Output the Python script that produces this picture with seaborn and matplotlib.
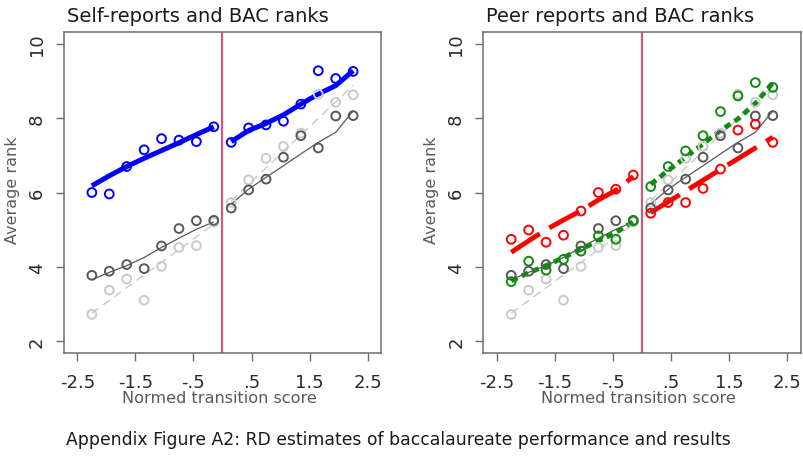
import matplotlib
matplotlib.use("Agg")
import matplotlib.pyplot as plt
import pandas as pd
import seaborn as sns

# ---------------- data ----------------
x_left = [-2.25, -1.95, -1.65, -1.35, -1.05, -0.75, -0.45, -0.15]
x_right = [0.15, 0.45, 0.75, 1.05, 1.35, 1.65, 1.95, 2.25]

# BAC rank (dark grey) - bin means and fit
bac_pts_left = [3.77, 3.88, 4.06, 3.95, 4.56, 5.03, 5.24, 5.25]
bac_pts_right = [5.58, 6.07, 6.36, 6.95, 7.53, 7.20, 8.06, 8.07]
bac_fit_left = [3.65, 3.85, 4.03, 4.25, 4.52, 4.77, 5.01, 5.21]
bac_fit_right = [5.69, 6.09, 6.41, 6.72, 7.04, 7.35, 7.62, 8.20]

# Baccalaureate performance (light grey) - bin means and straight fit
perf_pts_left = [2.72, 3.37, 3.67, 3.10, 4.01, 4.52, 4.57, 5.20]
perf_pts_right = [5.73, 6.34, 6.92, 7.24, 7.60, 8.65, 8.43, 8.63]
perf_fit_x_left = [-2.25, -0.15]
perf_fit_left = [2.75, 5.15]
perf_fit_x_right = [0.15, 2.25]
perf_fit_right = [5.78, 8.88]

# Self-reports (blue)
self_pts_left = [6.00, 5.96, 6.70, 7.15, 7.45, 7.41, 7.37, 7.77]
self_pts_right = [7.35, 7.74, 7.82, 7.92, 8.38, 9.28, 9.07, 9.26]
self_fit_left = [6.18, 6.45, 6.70, 6.92, 7.13, 7.34, 7.56, 7.77]
self_fit_right = [7.37, 7.67, 7.86, 8.09, 8.38, 8.65, 8.88, 9.28]

# Peer reports (red) and second peer measure (green)
red_pts_left = [4.74, 4.99, 4.66, 4.85, 5.50, 6.00, 6.09, 6.47]
red_pts_right = [5.44, 5.73, 5.73, 6.11, 6.63, 7.68, 7.84, 7.35]
red_fit_left = [4.39, 4.70, 5.00, 5.26, 5.51, 5.80, 6.06, 6.43]
red_fit_right = [5.46, 5.75, 6.04, 6.33, 6.62, 6.91, 7.20, 7.49]

green_pts_left = [3.60, 4.15, 3.91, 4.20, 4.42, 4.83, 4.74, 5.24]
green_pts_right = [6.16, 6.70, 7.12, 7.53, 8.18, 8.60, 8.96, 8.83]
green_fit_left = [3.62, 3.84, 4.03, 4.25, 4.47, 4.70, 4.92, 5.22]
green_fit_right = [6.22, 6.59, 6.95, 7.31, 7.67, 7.98, 8.40, 8.95]

x_ticks = [-2.5, -1.5, -0.5, 0.5, 1.5, 2.5]
x_tick_labels = ["-2.5", "-1.5", "-.5", ".5", "1.5", "2.5"]
y_ticks = [2, 4, 6, 8, 10]

titles = ["Self-reports and BAC ranks", "Peer reports and BAC ranks"]
x_label = "Normed transition score"
y_label = "Average rank"
caption = "Appendix Figure A2: RD estimates of baccalaureate performance and results"

# ---------------- styling ----------------
sns.set_style("white")
plt.rcParams["font.family"] = ["DejaVu Sans"]

C_BLUE = "#0000ff"
C_RED = "#ff0000"
C_GREEN = "#118a11"
C_DARK = "#585858"
C_LIGHT = "#c9c9c9"
C_VLINE = "#cf5a7c"
C_SPINE = "#6e6e6e"


def frame(xs, ys):
    return pd.DataFrame({"x": xs, "y": ys})


def draw_line(ax, xs, ys, color, lw, ls):
    sns.lineplot(data=frame(xs, ys), x="x", y="y", ax=ax, color=color,
                 linewidth=lw, linestyle=ls, estimator=None, sort=True,
                 legend=False, solid_capstyle="butt", dash_capstyle="butt")


def draw_pts(ax, xs, ys, color):
    sns.scatterplot(data=frame(xs, ys), x="x", y="y", ax=ax, marker="o",
                    s=40, facecolors="none", edgecolor=color, linewidth=1.4,
                    legend=False, zorder=5)


fig = plt.figure(figsize=(8.04, 4.60), dpi=100)
W, H = 804.0, 460.0
ax1 = fig.add_axes([64 / W, 1 - 354.3 / H, 317 / W, 321.6 / H])
ax2 = fig.add_axes([483.3 / W, 1 - 354.3 / H, 317.4 / W, 321.6 / H])

for i, ax in enumerate([ax1, ax2]):
    ax.axvline(0, color=C_VLINE, lw=1.6, zorder=1)
    # light grey: performance
    draw_line(ax, perf_fit_x_left, perf_fit_left, C_LIGHT, 1.0, (0, (6, 4)))
    draw_line(ax, perf_fit_x_right, perf_fit_right, C_LIGHT, 1.0, (0, (6, 4)))
    draw_pts(ax, x_left, perf_pts_left, C_LIGHT)
    draw_pts(ax, x_right, perf_pts_right, C_LIGHT)
    # dark grey: BAC rank
    draw_line(ax, x_left, bac_fit_left, C_DARK, 0.9, "-")
    draw_line(ax, x_right, bac_fit_right, C_DARK, 0.9, "-")
    draw_pts(ax, x_left, bac_pts_left, C_DARK)
    draw_pts(ax, x_right, bac_pts_right, C_DARK)

# Left panel: self-reports
draw_line(ax1, x_left, self_fit_left, C_BLUE, 3.6, "-")
draw_line(ax1, x_right, self_fit_right, C_BLUE, 3.6, "-")
draw_pts(ax1, x_left, self_pts_left, C_BLUE)
draw_pts(ax1, x_right, self_pts_right, C_BLUE)

# Right panel: peer reports
draw_line(ax2, x_left, red_fit_left, C_RED, 3.5, (0, (7, 2.3)))
draw_line(ax2, x_right, red_fit_right, C_RED, 3.5, (0, (7, 2.3)))
draw_line(ax2, x_left, green_fit_left, C_GREEN, 3.5, (0, (1.4, 1.0)))
draw_line(ax2, x_right, green_fit_right, C_GREEN, 3.5, (0, (1.4, 1.0)))
draw_pts(ax2, x_left, red_pts_left, C_RED)
draw_pts(ax2, x_right, red_pts_right, C_RED)
draw_pts(ax2, x_left, green_pts_left, C_GREEN)
draw_pts(ax2, x_right, green_pts_right, C_GREEN)

for i, ax in enumerate([ax1, ax2]):
    ax.set_xlim(-2.73, 2.73)
    ax.set_ylim(1.67, 10.33)
    ax.set_xticks(x_ticks)
    ax.set_xticklabels(x_tick_labels)
    ax.set_yticks(y_ticks)
    ax.set_yticklabels([str(v) for v in y_ticks], rotation=90, va="center")
    ax.tick_params(axis="both", which="major", direction="out", length=6,
                   width=1.0, color=C_SPINE, labelsize=13,
                   labelcolor="#2a2a2a", bottom=True, left=True)
    ax.tick_params(axis="x", pad=8)
    ax.tick_params(axis="y", pad=7)
    for sp in ax.spines.values():
        sp.set_visible(True)
        sp.set_color(C_SPINE)
        sp.set_linewidth(1.1)
    ax.set_xlabel(x_label, fontsize=11.6, color="#5a5a5a")
    ax.xaxis.set_label_coords(0.49, -0.115)
    ax.set_ylabel(y_label, fontsize=11.5, color="#5a5a5a")
    ax.yaxis.set_label_coords(-0.138, 0.51)
    ax.text(0.010, 1.0 + 7.0 / 321.6, titles[i], transform=ax.transAxes,
            ha="left", va="bottom", fontsize=14, color="#1a1a1a")
    ax.grid(False)

fig.text(0.495, 1 - 440 / H, caption, ha="center", va="center",
         fontsize=12.4, color="#1a1a1a")

fig.savefig("out.png", dpi=100, facecolor="white")
